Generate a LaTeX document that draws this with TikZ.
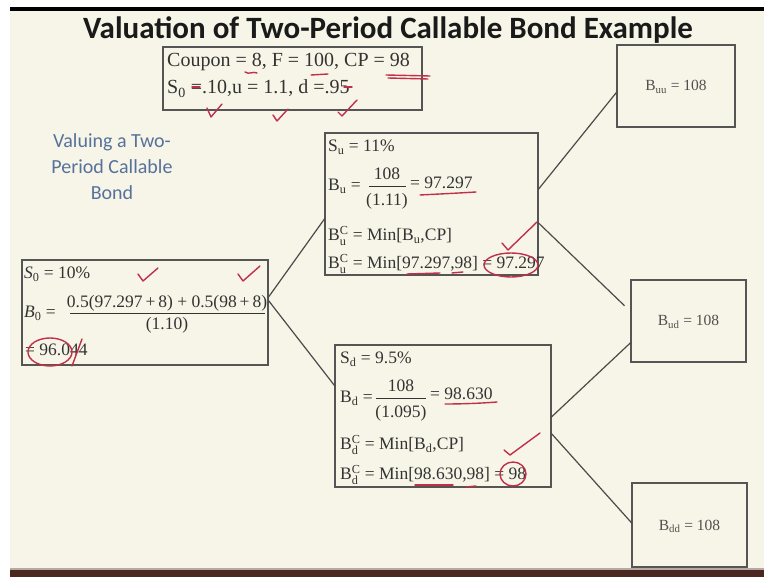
\documentclass[tikz,border=0pt]{standalone}
\usepackage{fontspec}
\setmainfont{Liberation Serif}
\newfontfamily\calibri{Carlito}
\usetikzlibrary{calc}
\definecolor{bgc}{HTML}{F7F5E7}
\definecolor{boxc}{HTML}{555555}
\definecolor{txtc}{HTML}{333333}
\definecolor{leafc}{HTML}{505050}
\definecolor{linec}{HTML}{4A4A4A}
\definecolor{titlec}{HTML}{1A1A1A}
\definecolor{bluec}{HTML}{56729C}
\definecolor{inkc}{HTML}{C0304A}
\definecolor{barc}{HTML}{4A2820}
\newcommand{\sbs}[1]{\textsubscript{#1}}
\newcommand{\BC}[1]{$\mathrm{B}^{\mathrm{C}}_{\mathrm{#1}}$}
\begin{document}
\begin{tikzpicture}[x=1pt,y=-1pt,
  box/.style={draw=boxc, line width=1.4pt, inner sep=0pt, outer sep=0pt},
  txt/.style={anchor=base west, inner sep=0pt, text=txtc, font=\fontsize{17.5}{20}\selectfont},
  ctr/.style={anchor=base, inner sep=0pt, text=txtc, font=\fontsize{17.5}{20}\selectfont},
  ctxt/.style={anchor=base west, inner sep=0pt, text=txtc, font=\fontsize{20}{22}\selectfont},
  leaf/.style={anchor=base, inner sep=0pt, text=leafc, font=\fontsize{15.5}{16}\selectfont},
  conn/.style={draw=linec, line width=1.2pt},
  fbar/.style={draw=txtc, line width=0.8pt},
  ink/.style={draw=inkc, line width=1.4pt, line cap=round, line join=round}]
\useasboundingbox (0,0) rectangle (764,577);
% background
\fill[white] (0,0) rectangle (764,577);
\fill[bgc] (10,11) rectangle (764,570);
\fill[black] (10,7) rectangle (764,11);
\fill[barc] (10,570) rectangle (764,577);
\fill[barc!40!white] (10,568) rectangle (764,570);
% title and side text
\node[anchor=base, inner sep=0pt, font=\calibri\bfseries\fontsize{31}{31}\selectfont, text=titlec] (title) at (388,39) {Valuation of Two-Period Callable Bond Example};
\node[inner sep=0pt, font=\calibri\fontsize{20}{26}\selectfont, text=bluec, align=center] (side) at (112,167) {Valuing a Two-\\Period Callable\\Bond};
% boxes
\node[box, minimum width=259pt, minimum height=63pt] (cp) at (292.5,78.5) {};
\node[box, minimum width=246pt, minimum height=105pt] (b0) at (145,312.5) {};
\node[box, minimum width=213pt, minimum height=142pt] (bu) at (431.5,204) {};
\node[box, minimum width=216pt, minimum height=142pt] (bd) at (443,416) {};
\node[box, minimum width=118pt, minimum height=82pt] (buu) at (676,86) {};
\node[box, minimum width=115pt, minimum height=82pt] (bud) at (688.5,321) {};
\node[box, minimum width=115pt, minimum height=84pt] (bdd) at (689.5,525) {};
% coupon text
\node[ctxt] (cp1) at (167,67) {Coupon = 8, F = 100, CP = 98};
\node[ctxt] (cp2) at (167,94) {S\sbs{0} =.10,u = 1.1, d =.95};
% B0 text
\node[txt] (b0a) at (24,279) {\textit{S}\sbs{0} = 10\%};
\node[txt] (b0b) at (24,318) {\textit{B}\sbs{0} =};
\node[ctr] (b0n) at (167,308) {0.5(97.297\,+\,8) + 0.5(98\,+\,8)};
\draw[fbar] (70,313) -- (265,313);
\node[ctr] (b0d) at (167,330) {(1.10)};
\node[txt] (b0c) at (25,356) {= 96.044};
% Bu text
\node[txt] (bua) at (328,152) {S\sbs{u} = 11\%};
\node[txt] (bub) at (328,191) {B\sbs{u} =};
\node[ctr] (bun) at (387,180) {108};
\draw[fbar] (369,186) -- (406,186);
\node[ctr] (bud2) at (387,206) {(1.11)};
\node[txt] (buv) at (410,189) {= 97.297};
\node[txt] (buc) at (328,241) {\BC{u} = Min[B\sbs{u},CP]};
\node[txt] (bue) at (328,269) {\BC{u} = Min[97.297,98] = 97.297};
% Bd text
\node[txt] (bda) at (340,364) {S\sbs{d} = 9.5\%};
\node[txt] (bdb) at (340,403) {B\sbs{d} =};
\node[ctr] (bdn) at (401,392) {108};
\draw[fbar] (376,398) -- (426,398);
\node[ctr] (bdd2) at (401,418) {(1.095)};
\node[txt] (bdv) at (430,400) {= 98.630};
\node[txt] (bdc) at (340,450) {\BC{d} = Min[B\sbs{d},CP]};
\node[txt] (bde) at (340,480) {\BC{d} = Min[98.630,98] = 98};
% leaves
\node[leaf] (tuu) at (676,91) {B\sbs{uu} = 108};
\node[leaf] (tud) at (688.5,326) {B\sbs{ud} = 108};
\node[leaf] (tdd) at (689.5,530) {B\sbs{dd} = 108};
% connectors
\draw[conn] ($(b0.north east)!0.36!(b0.south east)$) -- ($(bu.north west)!0.6!(bu.south west)$);
\draw[conn] ($(b0.north east)!0.38!(b0.south east)$) -- ($(bd.north west)!0.29!(bd.south west)$);
\draw[conn] ($(bu.north east)!0.40!(bu.south east)$) -- ($(buu.north west)!0.57!(buu.south west)$);
\draw[conn, shorten >=9pt] ($(bu.north east)!0.63!(bu.south east)$) -- ($(bud.north west)!0.39!(bud.south west)$);
\draw[conn] ($(bd.north east)!0.51!(bd.south east)$) -- ($(bud.north west)!0.76!(bud.south west)$);
\draw[conn] ($(bd.north east)!0.62!(bd.south east)$) -- ($(bdd.north west)!0.48!(bdd.south west)$);
% hand annotations
\draw[ink] (245,72) .. controls (249,75) and (253,71) .. (257,73);
\draw[ink] (311,75) -- (328,74);
\draw[ink] (386,75) -- (430,76);
\draw[ink] (388,78) -- (428,79);
\draw[ink] (192,87) -- (200,87);
\draw[ink] (344,87) -- (352,87);
\draw[ink] (207,108) -- (211,117) -- (222,104);
\draw[ink] (273,115) -- (277,121) -- (288,109);
\draw[ink] (338,112) -- (342,116) -- (357,100);
\draw[ink] (138,274) -- (143,281) -- (158,268);
\draw[ink] (238,274) -- (243,281) -- (260,266);
\draw[ink] (50,352) ellipse (22pt and 14pt);
\draw[ink] (72,366) -- (82,339);
\draw[ink] (420,195) .. controls (440,194) and (460,193) .. (476,192);
\draw[ink] (407,274) -- (440,273);
\draw[ink] (452,273) -- (463,272);
\draw[ink] (511,265) ellipse (27pt and 12pt);
\draw[ink] (502,243) -- (508,250) -- (537,222);
\draw[ink] (445,404) .. controls (465,404) and (485,403) .. (497,402);
\draw[ink] (415,485) -- (453,485);
\draw[ink] (466,487) -- (476,486);
\draw[ink] (513,474) ellipse (13pt and 12pt);
\draw[ink] (504,450) -- (510,455) -- (540,433);
\end{tikzpicture}
\end{document}
